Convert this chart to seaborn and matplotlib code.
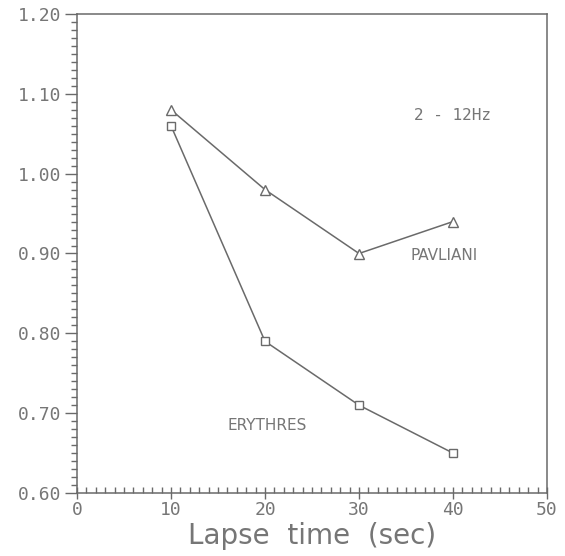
import pandas as pd
import matplotlib
matplotlib.use("Agg")
import matplotlib.pyplot as plt
import seaborn as sns
from matplotlib.ticker import MultipleLocator

# Datos
lapse_time = [10, 20, 30, 40]
pavliani = [1.08, 0.98, 0.90, 0.94]
erythres = [1.06, 0.79, 0.71, 0.65]

df = pd.DataFrame({
    "t": lapse_time * 2,
    "q": pavliani + erythres,
    "estacion": ["PAVLIANI"] * 4 + ["ERYTHRES"] * 4,
})

sns.set_style("white")
plt.rcParams["font.family"] = ["DejaVu Sans"]

LINE = "#6a6a6a"
TXT = "#767676"

fig = plt.figure(figsize=(5.65, 5.56), dpi=100)
ax = fig.add_axes([77 / 565, 63 / 556, 470 / 565, 479 / 556])

sns.lineplot(data=df[df.estacion == "PAVLIANI"], x="t", y="q", ax=ax,
             color=LINE, lw=1.1, marker="^", ms=7, mfc="white", mec=LINE, mew=1.0)
sns.lineplot(data=df[df.estacion == "ERYTHRES"], x="t", y="q", ax=ax,
             color=LINE, lw=1.1, marker="s", ms=6, mfc="white", mec=LINE, mew=1.0)

ax.set_xlim(0, 50)
ax.set_ylim(0.60, 1.20)
ax.xaxis.set_major_locator(MultipleLocator(10))
ax.xaxis.set_minor_locator(MultipleLocator(1))
ax.yaxis.set_major_locator(MultipleLocator(0.10))
ax.yaxis.set_minor_locator(MultipleLocator(0.01))
ax.set_yticklabels([f"{v:.2f}" for v in ax.get_yticks()])

ax.tick_params(which="both", bottom=True, left=True, top=False, right=False)
ax.tick_params(axis="y", which="major", direction="out", length=9, width=1, color=LINE,
               labelsize=13, labelcolor=TXT, pad=2)
ax.tick_params(axis="y", which="minor", direction="out", length=4, width=1, color=LINE)
ax.tick_params(axis="x", which="major", direction="inout", length=8, width=1, color=LINE,
               labelsize=13, labelcolor=TXT, pad=2)
ax.tick_params(axis="x", which="minor", direction="in", length=4, width=1, color=LINE)
for lab in ax.get_xticklabels() + ax.get_yticklabels():
    lab.set_family("DejaVu Sans Mono")

for s in ax.spines.values():
    s.set_color(LINE)
    s.set_linewidth(1.1)

ax.set_xlabel("Lapse  time  (sec)", fontsize=20, color=TXT, labelpad=2)
ax.set_ylabel("")

ax.text(39.9, 1.073, "2 - 12Hz", fontsize=11.5, color=TXT, ha="center", va="center",
        family="DejaVu Sans Mono")
ax.text(39.1, 0.897, "PAVLIANI", fontsize=11, color=TXT, ha="center", va="center")
ax.text(20.2, 0.685, "ERYTHRES", fontsize=11, color=TXT, ha="center", va="center")

fig.savefig("out.png", dpi=100)
